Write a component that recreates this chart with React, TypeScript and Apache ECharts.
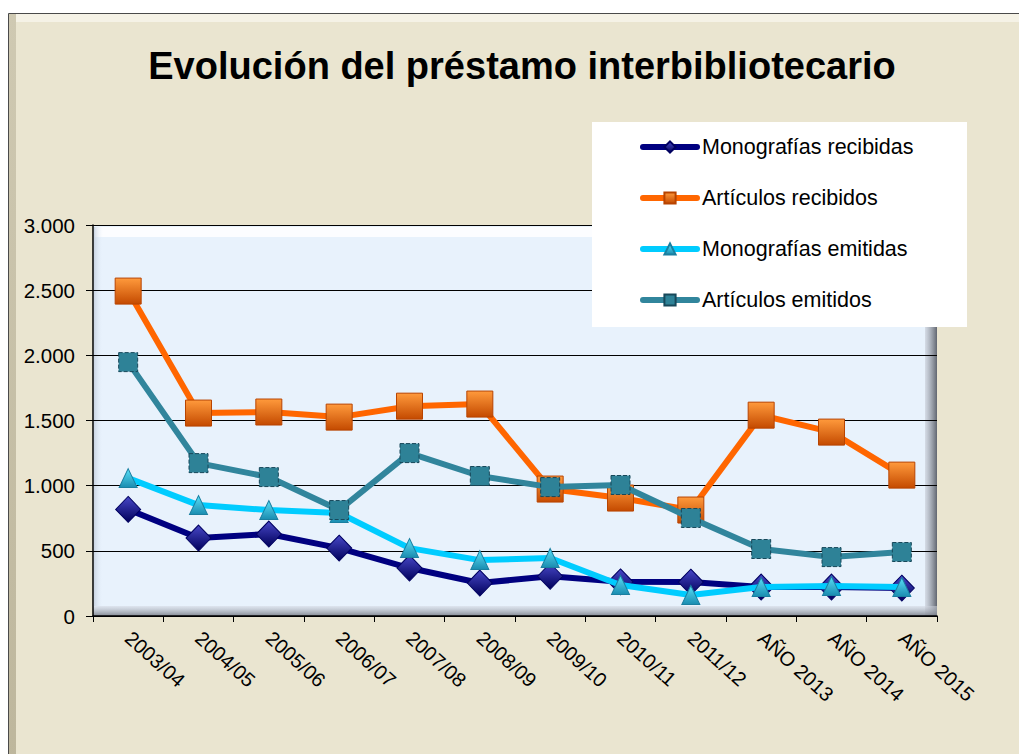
import React, { useEffect, useRef } from "react";
import * as echarts from "echarts";

const categories = [
  "2003/04", "2004/05", "2005/06", "2006/07", "2007/08", "2008/09",
  "2009/10", "2010/11", "2011/12", "AÑO 2013", "AÑO 2014", "AÑO 2015",
];
const monografiasRecibidas = [818, 598, 629, 521, 368, 253, 305, 262, 260, 222, 222, 214];
const articulosRecibidos = [2493, 1557, 1565, 1526, 1610, 1626, 974, 905, 813, 1541, 1411, 1081];
const monografiasEmitidas = [1058, 851, 813, 790, 521, 429, 445, 238, 161, 222, 230, 222];
const articulosEmitidos = [1948, 1173, 1066, 813, 1250, 1074, 989, 1005, 752, 514, 452, 491];
const yTicks = [0, 500, 1000, 1500, 2000, 2500, 3000];

const FONT = "'Liberation Sans', Arial, sans-serif";

function grad(top: string, bottom: string) {
  return new echarts.graphic.LinearGradient(0, 0, 0, 1, [
    { offset: 0, color: top },
    { offset: 1, color: bottom },
  ]);
}

export default function App() {
  const ref = useRef<HTMLDivElement>(null);
  useEffect(() => {
    if (!ref.current) return;
    const chart = echarts.init(ref.current, null, { renderer: "svg" });
    const option: any = {
      animation: false,
      backgroundColor: "#ffffff",
      textStyle: { fontFamily: FONT },
      title: {
        text: "Evolución del préstamo interbibliotecario",
        left: 517,
        textAlign: "center",
        top: 42,
        textStyle: { fontFamily: FONT, fontSize: 38, fontWeight: "bold", color: "#000" },
      },
      graphic: [
        {
          type: "rect",
          z: -10,
          shape: { x: 8.5, y: 13.5, width: 1030, height: 760 },
          style: { fill: "#EAE5D0", stroke: "#4a4a4a", lineWidth: 1 },
          silent: true,
        },
        {
          type: "rect",
          z: -9,
          shape: { x: 9, y: 14, width: 7, height: 760 },
          style: { fill: grad("#CFC9B2", "#BDB69C") },
          silent: true,
        },
        {
          type: "rect",
          z: -9,
          shape: { x: 16, y: 14, width: 1010, height: 8 },
          style: { fill: "#F5F2E6" },
          silent: true,
        },
        {
          type: "rect",
          z: 0,
          shape: { x: 925, y: 225, width: 12, height: 391 },
          style: {
            fill: new echarts.graphic.LinearGradient(0, 0, 1, 0, [
              { offset: 0, color: "rgba(200,205,215,0.6)" },
              { offset: 1, color: "rgba(90,95,105,0.95)" },
            ]),
          },
          silent: true,
        },
        {
          type: "rect",
          z: 0,
          shape: { x: 93, y: 606, width: 844, height: 10 },
          style: {
            fill: new echarts.graphic.LinearGradient(0, 0, 0, 1, [
              { offset: 0, color: "rgba(210,215,225,0.5)" },
              { offset: 1, color: "rgba(120,125,135,0.9)" },
            ]),
          },
          silent: true,
        },
        {
          type: "rect",
          z: 0,
          shape: { x: 95, y: 227, width: 828, height: 10 },
          style: { fill: "rgba(255,255,255,0.85)" },
          silent: true,
        },
        {
          type: "rect",
          z: 0,
          shape: { x: 94, y: 227, width: 9, height: 379 },
          style: {
            fill: new echarts.graphic.LinearGradient(0, 0, 1, 0, [
              { offset: 0, color: "rgba(190,200,215,0.7)" },
              { offset: 1, color: "rgba(232,242,252,0)" },
            ]),
          },
          silent: true,
        },
        {
          type: "rect",
          z: 5,
          shape: { x: 592, y: 122, width: 375, height: 205 },
          style: { fill: "#ffffff" },
          silent: true,
        },
      ],
      legend: {
        orient: "vertical",
        left: 635,
        top: 131,
        itemGap: 29,
        itemWidth: 54,
        itemHeight: 14,
        z: 6,
        lineStyle: { width: 6, cap: "round" },
        textStyle: { fontFamily: FONT, fontSize: 21.5, color: "#000" },
        data: [
          "Monografías recibidas",
          "Artículos recibidos",
          "Monografías emitidas",
          "Artículos emitidos",
        ],
      },
      grid: {
        left: 93,
        top: 225,
        right: 82,
        bottom: 138,
        show: true,
        backgroundColor: "#E8F2FC",
        borderWidth: 0,
        containLabel: false,
      },
      xAxis: {
        type: "category",
        data: categories,
        boundaryGap: true,
        axisLine: { show: true, lineStyle: { color: "#000", width: 1.5 } },
        axisTick: { show: true, length: 6, inside: false, lineStyle: { color: "#000" } },
        axisLabel: {
          rotate: -42,
          margin: 19,
          fontFamily: FONT,
          fontSize: 20,
          color: "#000",
          interval: 0,
        },
        splitLine: { show: false },
      },
      yAxis: {
        type: "value",
        min: 0,
        max: 3000,
        interval: 500,
        axisLine: { show: true, lineStyle: { color: "#000", width: 1.5 } },
        axisTick: { show: true, length: 7, lineStyle: { color: "#000" } },
        axisLabel: {
          margin: 18,
          fontFamily: FONT,
          fontSize: 20.5,
          color: "#000",
          formatter: (v: number) =>
            yTicks.includes(v) ? v.toLocaleString("de-DE") : "",
        },
        splitLine: { show: true, lineStyle: { color: "#000", width: 1 } },
      },
      series: [
        {
          name: "Monografías recibidas",
          type: "line",
          data: monografiasRecibidas,
          symbol: "diamond",
          symbolSize: [25, 26],
          z: 3,
          lineStyle: { color: "#000080", width: 6 },
          itemStyle: {
            color: grad("#4848C8", "#00005A"),
            borderColor: "#000060",
            borderWidth: 1,
          },
        },
        {
          name: "Artículos recibidos",
          type: "line",
          data: articulosRecibidos,
          symbol: "rect",
          symbolSize: 26,
          z: 3,
          lineStyle: { color: "#FF6600", width: 6 },
          itemStyle: {
            color: grad("#FF9A3C", "#C44A00"),
            borderColor: "#B84400",
            borderWidth: 1,
          },
        },
        {
          name: "Monografías emitidas",
          type: "line",
          data: monografiasEmitidas,
          symbol: "triangle",
          symbolSize: [18, 19],
          z: 4,
          lineStyle: { color: "#00CCFF", width: 6 },
          itemStyle: {
            color: grad("#5AE0F8", "#1A8CB0"),
            borderColor: "#1A7FA0",
            borderWidth: 1,
          },
        },
        {
          name: "Artículos emitidos",
          type: "line",
          data: articulosEmitidos,
          symbol: "rect",
          symbolSize: 19,
          z: 4,
          lineStyle: { color: "#31859C", width: 6 },
          itemStyle: {
            color: "#2E8297",
            borderColor: "#17485A",
            borderWidth: 1,
            borderType: "dashed",
          },
        },
      ],
    };
    chart.setOption(option);
    return () => chart.dispose();
  }, []);
  return (
    <div
      ref={ref}
      style={{ position: "fixed", left: 0, top: 0, width: 1019, height: 754 }}
    />
  );
}
